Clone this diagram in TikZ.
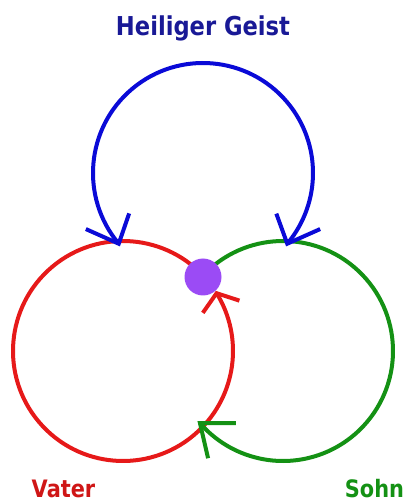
\documentclass[tikz,border=0pt]{standalone}
\usepackage{fontspec}
\newfontfamily\trinityfont{DejaVu Sans}[FakeStretch=0.87]
\usepackage{xcolor}
\definecolor{geistblue}{RGB}{ 10, 10, 215}
\definecolor{geisttext}{RGB}{ 25, 25, 150}
\definecolor{vaterred}{RGB}{ 230, 25, 25}
\definecolor{sohngreen}{RGB}{ 20, 145, 20}
\definecolor{dotpurple}{RGB}{ 155, 75, 245}
\usepackage{tikz}

\begin{document}
\begin{tikzpicture}[
  x=1pt, y=1pt,
  ring/.style={line width=4pt},
  barb/.style={line width=4pt, line join=miter},
  titlelabel/.style={font=\trinityfont\bfseries\fontsize{26}{30}\selectfont, anchor=base, inner sep=0pt},
  personlabel/.style={font=\trinityfont\bfseries\fontsize{24}{28}\selectfont, anchor=base, inner sep=0pt}
]
\useasboundingbox (0,0) rectangle (407,504);

%% Centres of the three circles
\coordinate (vater) at (123,153);
\coordinate (sohn)  at (283,153);
\coordinate (geist) at (203,331);

%% Vater: full turn ending at the meeting point
\draw [ring, vaterred] ([shift={(43:110)}]vater)
    arc[start angle=43, end angle=391.7, radius=110] coordinate (redtip);

%% Sohn: from the meeting point round to the red circle
\draw [ring, sohngreen] ([shift={(137:110)}]sohn) coordinate (greenstart)
    arc[start angle=137, end angle=-139, radius=110] coordinate (greentip);

%% Heiliger Geist: arc onto both circles
\draw [ring, geistblue] ([shift={(220:110)}]geist) coordinate (bluetipL)
    arc[start angle=220, end angle=-40, radius=110] coordinate (bluetipR);

%% Arrow barbs
\draw [barb, vaterred]  ([shift={(-18:24)}]redtip) -- (redtip) -- ([shift={(-125:24)}]redtip);
\draw [barb, sohngreen] ([shift={(0:36)}]greentip) -- (greentip) -- ([shift={(-77:36)}]greentip);
\draw [barb, geistblue] ([shift={(156:36)}]bluetipL) -- (bluetipL) -- ([shift={(71:32)}]bluetipL);
\draw [barb, geistblue] ([shift={(24:36)}]bluetipR) -- (bluetipR) -- ([shift={(110:32)}]bluetipR);

%% Meeting point
\node (meet) [circle, fill=dotpurple, minimum size=37pt, inner sep=0pt]
    at (203,227) {};

%% Labels
\node (geistlabel) [titlelabel, text=geisttext] at (203,468) {Heiliger Geist};
\node (vaterlabel) [personlabel, text=vaterred!90!black] at (63.5,6) {Vater};
\node (sohnlabel)  [personlabel, text=sohngreen] at (374.5,6) {Sohn};

\end{tikzpicture}
\end{document}
